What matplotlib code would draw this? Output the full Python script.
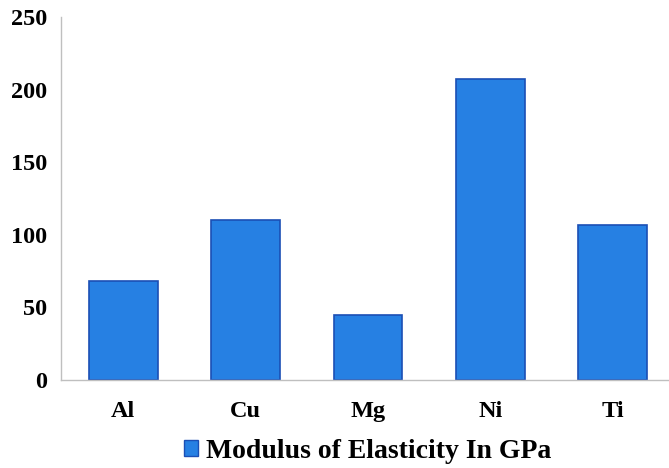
import matplotlib
matplotlib.use("Agg")
import matplotlib.pyplot as plt
from matplotlib.patches import Patch

categories = ["Al", "Cu", "Mg", "Ni", "Ti"]
modulus = [68, 110, 45, 207, 107]
series_label = "Modulus of Elasticity In GPa"
yticks = [0, 50, 100, 150, 200, 250]

plt.rcParams['font.family'] = ['Liberation Serif', 'DejaVu Serif']
plt.rcParams['font.weight'] = 'bold'

fig = plt.figure(figsize=(6.69, 4.68), dpi=100)
ax = fig.add_axes([61/669, 88/468, 608/669, 363/468])

face = "#2680E3"
edge = "#1B4FB5"
x = range(len(categories))
ax.bar(x, modulus, width=0.56, color=face, edgecolor=edge, linewidth=1.2)

ax.set_ylim(0, 250)
ax.set_xlim(-0.51, 4.46)
ax.set_yticks(yticks)
ax.set_xticks(list(x))
ax.set_xticklabels(categories)
ax.tick_params(axis='both', length=0, labelsize=17.5)
ax.tick_params(axis='y', pad=10)
ax.tick_params(axis='x', pad=15)
for lab in ax.get_xticklabels() + ax.get_yticklabels():
    lab.set_fontweight('bold')

for s in ['top', 'right']:
    ax.spines[s].set_visible(False)
for s in ['left', 'bottom']:
    ax.spines[s].set_color("#BFBFBF")
    ax.spines[s].set_linewidth(1.0)

handle = Patch(facecolor=face, edgecolor=edge, label=series_label)
fig.legend(handles=[handle], loc='center', bbox_to_anchor=(368/669, 1 - 451/468),
           frameon=False, handlelength=0.5, handleheight=0.5,
           handletextpad=0.3, borderpad=0, prop={'weight': 'bold', 'size': 20})

fig.savefig("out.png", dpi=100)
